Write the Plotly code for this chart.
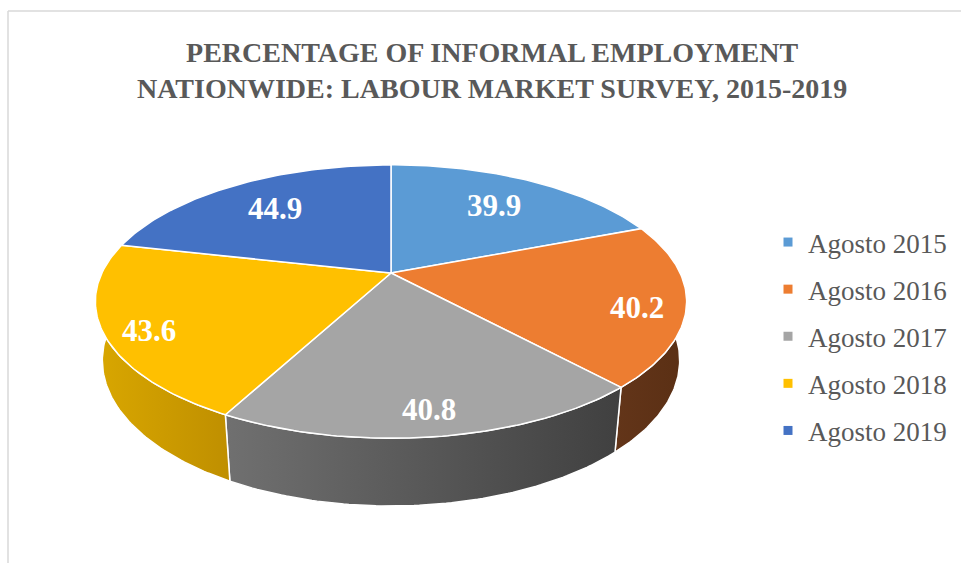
import math
import plotly.graph_objects as go

# Data
categories = ["Agosto 2015", "Agosto 2016", "Agosto 2017", "Agosto 2018", "Agosto 2019"]
values = [39.9, 40.2, 40.8, 43.6, 44.9]
top_colors = ["#5B9BD5", "#ED7D31", "#A5A5A5", "#FFC000", "#4472C4"]
side_colors = [("#3F77AA", "#345F88"), ("#633519", "#5A2F14"), ("#707070", "#404040"),
               ("#D9A700", "#BF8F00"), ("#2F5597", "#264478")]
title_text = "PERCENTAGE OF INFORMAL EMPLOYMENT<br>NATIONWIDE: LABOUR MARKET SURVEY, 2015-2019"

W, H_PX = 961, 563
SERIF = "Liberation Serif"

# Perspective camera for the tilted disc (screen units are pixels)
TILT = math.radians(26.3)
C, S = math.cos(TILT), math.sin(TILT)
DIST = 4.294
FOCAL = 1266.8
KX = 0.98
CX, CY = 391.0, 273.0
DEPTH = 0.223  # disc thickness relative to its radius


def project(X, Y, Z):
    w = Y * C - Z * S
    yc = Y * S + Z * C
    return CX + KX * FOCAL * X / (DIST + w), CY - FOCAL * yc / (DIST + w)


def arc(t0, t1, z, r=1.0, n=80):
    pts = []
    for i in range(n + 1):
        t = math.radians(t0 + (t1 - t0) * i / n)
        pts.append(project(r * math.sin(t), r * math.cos(t), z))
    return pts


total = sum(values)
bounds = []
acc = 0.0
for v in values:
    a0 = acc / total * 360.0
    acc += v
    bounds.append((a0, acc / total * 360.0))

fig = go.Figure()

# Outer walls (only the part facing the viewer)
FRONT_MIN, FRONT_MAX = 80.0, 280.0
for i, (a0, a1) in enumerate(bounds):
    lo, hi = max(a0, FRONT_MIN), min(a1, FRONT_MAX)
    if hi <= lo:
        continue
    pts = arc(lo, hi, 0.0) + arc(hi, lo, -DEPTH)
    pts.append(pts[0])
    fig.add_trace(go.Scatter(
        x=[p[0] for p in pts], y=[p[1] for p in pts],
        mode="lines", fill="toself",
        fillgradient=dict(type="horizontal",
                          colorscale=[[0, side_colors[i][0]], [1, side_colors[i][1]]]),
        line=dict(color="white", width=1.5),
        hoverinfo="skip", showlegend=False))

# Top faces
apex = project(0, 0, 0)
for i, (a0, a1) in enumerate(bounds):
    pts = [apex] + arc(a0, a1, 0.0) + [apex]
    fig.add_trace(go.Scatter(
        x=[p[0] for p in pts], y=[p[1] for p in pts],
        mode="lines", fill="toself", fillcolor=top_colors[i],
        line=dict(color="white", width=1.5),
        hoverinfo="skip", showlegend=False))

# Value labels: pulled in at the back, pushed out at the sides and front
annotations = []
for (a0, a1), v in zip(bounds, values):
    t = math.radians((a0 + a1) / 2)
    r = 0.76 - 0.10 * math.cos(t) + 0.06 * abs(math.sin(t))
    px, py = project(r * math.sin(t), r * math.cos(t), -0.035 * math.sin(t) ** 4)
    annotations.append(dict(text=f"<b>{v:.1f}</b>", xref="x", yref="y", x=px, y=py,
                            xanchor="center", yanchor="middle", showarrow=False,
                            font=dict(family=SERIF, size=31, color="white")))

annotations.append(dict(text=f"<b>{title_text}</b>", xref="x", yref="y",
                        x=492, y=70, xanchor="center", yanchor="middle",
                        showarrow=False,
                        font=dict(family=SERIF, size=28, color="#595959")))

# Legend entries
for i, name in enumerate(categories):
    fig.add_trace(go.Scatter(
        x=[None], y=[None], mode="markers", name=name, legendgroup=name,
        marker=dict(symbol="square", size=9, color=top_colors[i])))

fig.update_layout(
    width=W, height=H_PX,
    margin=dict(l=0, r=0, t=0, b=0),
    font=dict(family=SERIF),
    paper_bgcolor="white", plot_bgcolor="white",
    xaxis=dict(range=[0, W], visible=False, fixedrange=True),
    yaxis=dict(range=[H_PX, 0], visible=False, fixedrange=True),
    annotations=annotations,
    legend=dict(x=768 / W, xanchor="left", y=1 - 218 / H_PX, yanchor="top",
                font=dict(family=SERIF, size=27, color="#595959"),
                tracegroupgap=9, bgcolor="rgba(0,0,0,0)"),
    shapes=[dict(type="line", xref="x", yref="y", x0=8, y0=H_PX, x1=8, y1=11,
                 line=dict(color="#D9D9D9", width=1.5)),
            dict(type="line", xref="x", yref="y", x0=8, y0=11, x1=W, y1=11,
                 line=dict(color="#D9D9D9", width=1.5))],
)

fig.write_html("out.html")
